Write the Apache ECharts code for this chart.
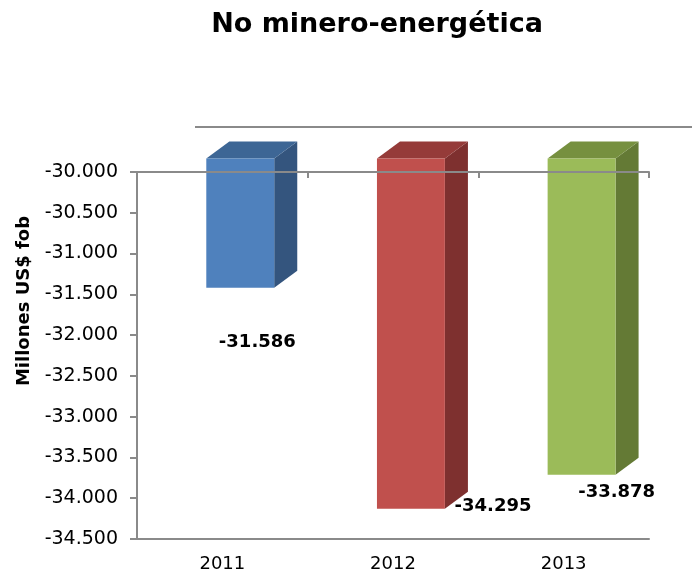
<!DOCTYPE html>
<html>
<head>
<meta charset="utf-8">
<script src="https://cdn.jsdelivr.net/npm/echarts@6/dist/echarts.min.js"></script>
<style>
  html, body { margin: 0; padding: 0; background: #fff; }
  #chart { width: 692px; height: 574px; }
</style>
</head>
<body>
<div id="chart"></div>
<script>
// datos del gráfico
const years = ["2011", "2012", "2013"];
const values = [-31586, -34295, -33878];
const yMin = -34500;
const yMax = -30000;
const yStep = 500;

// colores por barra: [frente, tapa, lateral]
const palette = [
  ["#4F81BD", "#3D6695", "#34557E"],
  ["#C0504D", "#953B39", "#7E302F"],
  ["#9BBB59", "#76903F", "#647A35"],
];
// desplazamiento de cada etiqueta respecto al centro de la categoría y al valor
const labelOffsets = [
  [35, 41],
  [100, -16],
  [53, 4],
];

const FONT = "DejaVu Sans";
const AXIS_COLOR = "#8a8a8a";

const fmt = (v) => {
  const s = Math.abs(v).toString().replace(/\B(?=(\d{3})+(?!\d))/g, ".");
  return (v < 0 ? "-" : "") + s;
};

const chart = echarts.init(document.getElementById("chart"));

const option = {
  backgroundColor: "#fff",
  animation: false,
  title: {
    text: "No minero-energética",
    left: 372,
    textAlign: "center",
    top: 6,
    textStyle: { fontFamily: FONT, fontSize: 27, fontWeight: "bold", color: "#000" },
  },
  grid: { left: 137, right: 43, top: 172, bottom: 35 },
  graphic: [
    {
      type: "line",
      shape: { x1: 195, y1: 127, x2: 692, y2: 127 },
      style: { stroke: AXIS_COLOR, lineWidth: 2 },
    },
    {
      // título del eje Y
      type: "text",
      x: 24,
      y: 301,
      rotation: Math.PI / 2,
      style: {
        text: "Millones US$ fob",
        fontFamily: FONT,
        fontSize: 18,
        fontWeight: "bold",
        fill: "#000",
        align: "center",
        verticalAlign: "middle",
      },
    },
  ],
  xAxis: [
    {
      type: "category",
      data: years,
      position: "top",
      z: 20,
      axisLine: { show: true, onZero: false, lineStyle: { color: AXIS_COLOR, width: 2 } },
      axisTick: { show: true, inside: true, length: 6, interval: 0, lineStyle: { color: AXIS_COLOR, width: 2 } },
      axisLabel: { show: false },
    },
    {
      type: "category",
      data: years,
      position: "bottom",
      axisLine: { show: true, onZero: false, lineStyle: { color: AXIS_COLOR, width: 2 } },
      axisTick: { show: false },
      axisLabel: { fontFamily: FONT, fontSize: 18, color: "#000", margin: 16 },
    },
  ],
  yAxis: {
    type: "value",
    min: yMin,
    max: yMax,
    interval: yStep,
    axisLine: { show: true, lineStyle: { color: AXIS_COLOR, width: 2 } },
    axisTick: { show: true, length: 7, lineStyle: { color: AXIS_COLOR, width: 2 } },
    axisLabel: { fontFamily: FONT, fontSize: 19, color: "#000", margin: 19, formatter: fmt },
    splitLine: { show: false },
  },
  series: [
    {
      type: "custom",
      xAxisIndex: 0,
      z: 1,
      data: values.map((v, i) => [i, v]),
      renderItem: (params, api) => {
        const i = api.value(0);
        const base = api.coord([i, yMax]);
        const end = api.coord([i, api.value(1)]);
        const band = api.size([1, 0])[0];
        const w = band * 0.398;
        const dx = band * 0.135;
        const dy = -17;
        const x0 = base[0] - band * 0.094;
        const x1 = x0 + w;
        const y0 = base[1] - 13.5;
        const y1 = end[1] - 13.5;
        const c = palette[i];
        const off = labelOffsets[i];
        return {
          type: "group",
          children: [
            {
              type: "polygon",
              shape: { points: [[x1, y0], [x1 + dx, y0 + dy], [x1 + dx, y1 + dy], [x1, y1]] },
              style: { fill: c[2] },
            },
            {
              type: "polygon",
              shape: { points: [[x0, y0], [x1, y0], [x1 + dx, y0 + dy], [x0 + dx, y0 + dy]] },
              style: { fill: c[1] },
            },
            {
              type: "rect",
              shape: { x: x0, y: y0, width: w, height: y1 - y0 },
              style: { fill: c[0] },
            },
            {
              type: "text",
              x: base[0] + off[0],
              y: end[1] + off[1],
              style: {
                text: fmt(api.value(1)),
                fontFamily: FONT,
                fontSize: 18,
                fontWeight: "bold",
                fill: "#000",
                align: "center",
                verticalAlign: "middle",
              },
            },
          ],
        };
      },
    },
  ],
};

chart.setOption(option);
</script>
</body>
</html>
